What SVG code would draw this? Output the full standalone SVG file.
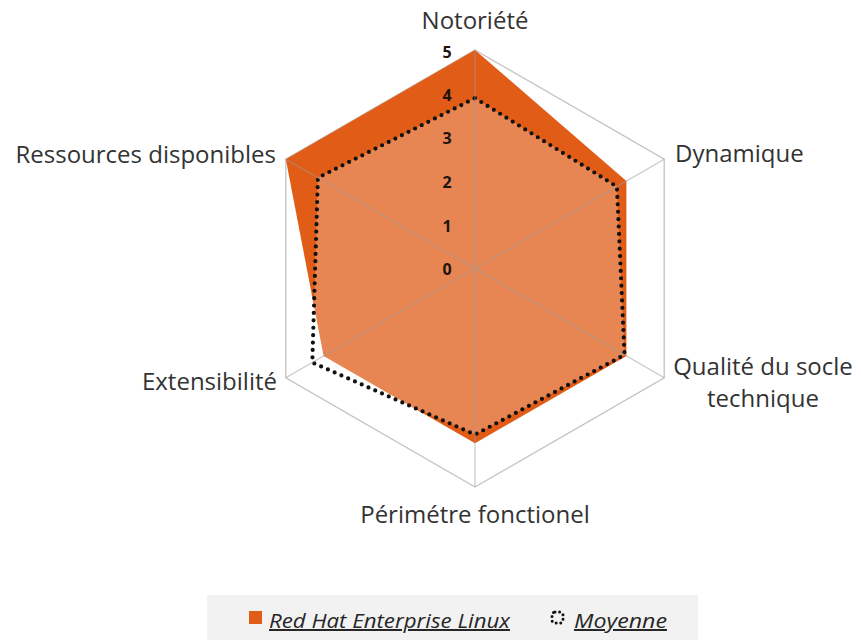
<svg xmlns="http://www.w3.org/2000/svg" width="861" height="640" viewBox="0 0 861 640">
<style>
.lbl{font-family:"Open Sans","Liberation Sans",sans-serif;font-size:24px;fill:#333333}
.tick{font-family:"Open Sans","Liberation Sans",sans-serif;font-size:16px;font-weight:bold;fill:#1e1410;text-anchor:middle}
.leg{font-family:"Open Sans","Liberation Sans",sans-serif;font-size:20px;font-style:italic;fill:#262626;text-decoration:underline}
.grid{fill:none;stroke:#c4c4c4;stroke-width:1.3}
.spoke{stroke:#9a9a9a;stroke-opacity:0.55;stroke-width:1.2}
.dots{fill:#ffffff;fill-opacity:0.26;stroke:#111;stroke-width:4.2;stroke-linecap:round;stroke-linejoin:round;stroke-dasharray:0 7.4}
</style>
<rect width="861" height="640" fill="#ffffff"/>
<g id="grid">
<polygon class="grid" points="475,50 664.2,159.25 664.2,377.75 475,487 285.8,377.75 285.8,159.25"/>
</g>
<g id="series-rhel">
<polygon fill="#e15c17" points="475,50 626.4,181.1 626.4,355.9 475,443.3 323.6,355.9 285.8,159.25"/>
</g>
<g id="series-moyenne">
<polygon class="dots" points="475,98.1 616.9,186.6 624.5,354.8 475,434.6 312.3,362.5 317.9,177.8"/>
</g>
<g id="connectors">
<line class="spoke" x1="475" y1="268.5" x2="475" y2="50"/>
<line class="spoke" x1="475" y1="268.5" x2="664.2" y2="159.25"/>
<line class="spoke" x1="475" y1="268.5" x2="664.2" y2="377.75"/>
<line class="spoke" x1="475" y1="268.5" x2="475" y2="487"/>
<line class="spoke" x1="475" y1="268.5" x2="285.8" y2="377.75"/>
<line class="spoke" x1="475" y1="268.5" x2="285.8" y2="159.25"/>
</g>
<g id="ticks">
<text class="tick" x="447" y="58">5</text>
<text class="tick" x="447" y="101">4</text>
<text class="tick" x="447" y="144">3</text>
<text class="tick" x="447" y="188">2</text>
<text class="tick" x="447" y="232">1</text>
<text class="tick" x="447" y="275">0</text>
</g>
<g id="axis-notoriete"><text class="lbl" x="475" y="29" text-anchor="middle">Notoriété</text></g>
<g id="axis-dynamique"><text class="lbl" x="675" y="162">Dynamique</text></g>
<g id="axis-qualite"><text class="lbl" x="763" y="375" text-anchor="middle">Qualité du socle</text><text class="lbl" x="763" y="407" text-anchor="middle">technique</text></g>
<g id="axis-perimetre"><text class="lbl" x="475" y="523" text-anchor="middle">Périmétre fonctionel</text></g>
<g id="axis-extensibilite"><text class="lbl" x="277" y="390" text-anchor="end">Extensibilité</text></g>
<g id="axis-ressources"><text class="lbl" x="276" y="163" text-anchor="end">Ressources disponibles</text></g>
<g id="legend">
<rect x="207" y="595" width="491" height="50" fill="#f2f2f2"/>
<rect x="249" y="611" width="13" height="13" fill="#e15c17"/>
<text class="leg" x="269" y="628" textLength="241" lengthAdjust="spacingAndGlyphs">Red Hat Enterprise Linux</text>
<rect x="552" y="612" width="11" height="11" rx="3" fill="none" stroke="#111" stroke-width="3" stroke-linecap="round" stroke-dasharray="0 4.6"/>
<text class="leg" x="574" y="628" textLength="93" lengthAdjust="spacingAndGlyphs">Moyenne</text>
</g>
</svg>
